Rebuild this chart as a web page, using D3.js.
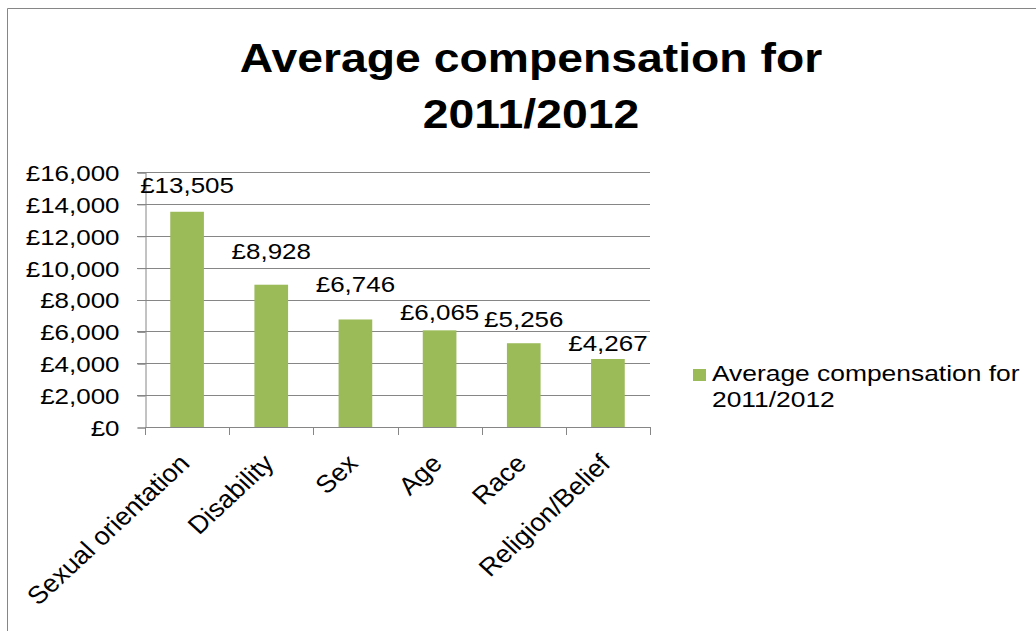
<!DOCTYPE html>
<html>
<head>
<meta charset="utf-8">
<script src="https://cdn.jsdelivr.net/npm/d3@7"></script>
<style>
  body { margin: 0; background: #fff; }
  text { font-family: "Liberation Sans", Arial, sans-serif; fill: #000; }
</style>
</head>
<body>
<div id="chart"></div>
<script>
// Chart data
const categories = ["Sexual orientation", "Disability", "Sex", "Age", "Race", "Religion/Belief"];
const values = [13505, 8928, 6746, 6065, 5256, 4267];
const yTicks = [0, 2000, 4000, 6000, 8000, 10000, 12000, 14000, 16000];
const seriesName = ["Average compensation for", "2011/2012"];
const titleLines = ["Average compensation for", "2011/2012"];

const width = 1036;
const height = 631;
const SX = 1.18;              // the picture is a bit wider than tall text
const barColor = "#9BBB59";
const gray = "#868686";

// data labels were nudged by hand in the original
const labelLift = [19, 26, 27, 10, 16, 8];

const svg = d3.select("#chart")
    .append("svg")
    .attr("width", width)
    .attr("height", height);

// chart area border (only top & left visible)
svg.append("path")
    .attr("d", `M7.5 ${height} V8.5 H${width}`)
    .attr("fill", "none")
    .attr("stroke", gray)
    .attr("stroke-width", 1);

// Title
svg.selectAll(".title")
    .data(titleLines)
    .enter()
    .append("text")
    .attr("class", "title")
    .attr("text-anchor", "middle")
    .attr("font-size", 41)
    .attr("font-weight", "bold")
    .attr("transform", (d, i) => `translate(531, ${72 + i * 56}) scale(1.13,1)`)
    .text(d => d);

const x = d3.scaleBand()
    .domain(categories)
    .range([145, 650])
    .paddingInner(0.6)
    .paddingOuter(0.3);

const xCat = d3.scaleBand()
    .domain(categories)
    .range([145, 650]);

const y = d3.scaleLinear()
    .domain([0, 16000])
    .range([427, 172]);

// gridlines
svg.selectAll(".grid")
    .data(yTicks.slice(1))
    .enter()
    .append("line")
    .attr("x1", 137)
    .attr("x2", 650)
    .attr("y1", d => Math.round(y(d)) + 0.5)
    .attr("y2", d => Math.round(y(d)) + 0.5)
    .attr("stroke", gray);

// y axis
const yAxis = svg.append("g")
    .attr("transform", "translate(145.5,0.5)")
    .call(d3.axisLeft(y).tickValues(yTicks).tickSize(8).tickPadding(18).tickFormat(d => "£" + d3.format(",")(d)));
yAxis.select(".domain").attr("stroke", gray);
yAxis.selectAll(".tick line").attr("stroke", gray);
yAxis.selectAll(".tick text")
    .attr("font-size", 22)
    .attr("font-family", null)
    .attr("dy", "0.36em")
    .attr("transform", function() {
        const tx = +d3.select(this).attr("x");
        return `translate(${tx},0) scale(${SX},1)`;
    })
    .attr("x", 0);

// bars
svg.selectAll(".bar")
    .data(values)
    .enter()
    .append("rect")
    .attr("class", "bar")
    .attr("x", (d, i) => x(categories[i]))
    .attr("y", d => y(d))
    .attr("width", x.bandwidth())
    .attr("height", d => y(0) - y(d))
    .attr("fill", barColor);

// x axis
const xTicks = [145].concat(categories.map(c => xCat(c) + xCat.bandwidth()));
svg.append("line")
    .attr("x1", 145).attr("x2", 650)
    .attr("y1", 427.5).attr("y2", 427.5)
    .attr("stroke", gray);
svg.selectAll(".xtick")
    .data(xTicks)
    .enter()
    .append("line")
    .attr("x1", d => Math.round(d) + 0.5)
    .attr("x2", d => Math.round(d) + 0.5)
    .attr("y1", 427)
    .attr("y2", 435)
    .attr("stroke", gray);

// category labels
svg.selectAll(".cat")
    .data(categories)
    .enter()
    .append("text")
    .attr("class", "cat")
    .attr("text-anchor", "end")
    .attr("font-size", 25)
    .attr("transform", d => `translate(${xCat(d) + xCat.bandwidth() / 2 + 4}, 465) scale(1.08,1) rotate(-45)`)
    .text(d => d);

// data labels
svg.selectAll(".val")
    .data(values)
    .enter()
    .append("text")
    .attr("class", "val")
    .attr("text-anchor", "middle")
    .attr("font-size", 22)
    .attr("transform", (d, i) => `translate(${xCat(categories[i]) + xCat.bandwidth() / 2}, ${y(d) - labelLift[i]}) scale(${SX},1)`)
    .text(d => "£" + d3.format(",")(d));

// legend
svg.append("rect")
    .attr("x", 693)
    .attr("y", 369)
    .attr("width", 13)
    .attr("height", 12)
    .attr("fill", barColor);
svg.selectAll(".leg")
    .data(seriesName)
    .enter()
    .append("text")
    .attr("class", "leg")
    .attr("font-size", 22)
    .attr("transform", (d, i) => `translate(712, ${381 + i * 26}) scale(1.2,1)`)
    .text(d => d);
</script>
</body>
</html>
